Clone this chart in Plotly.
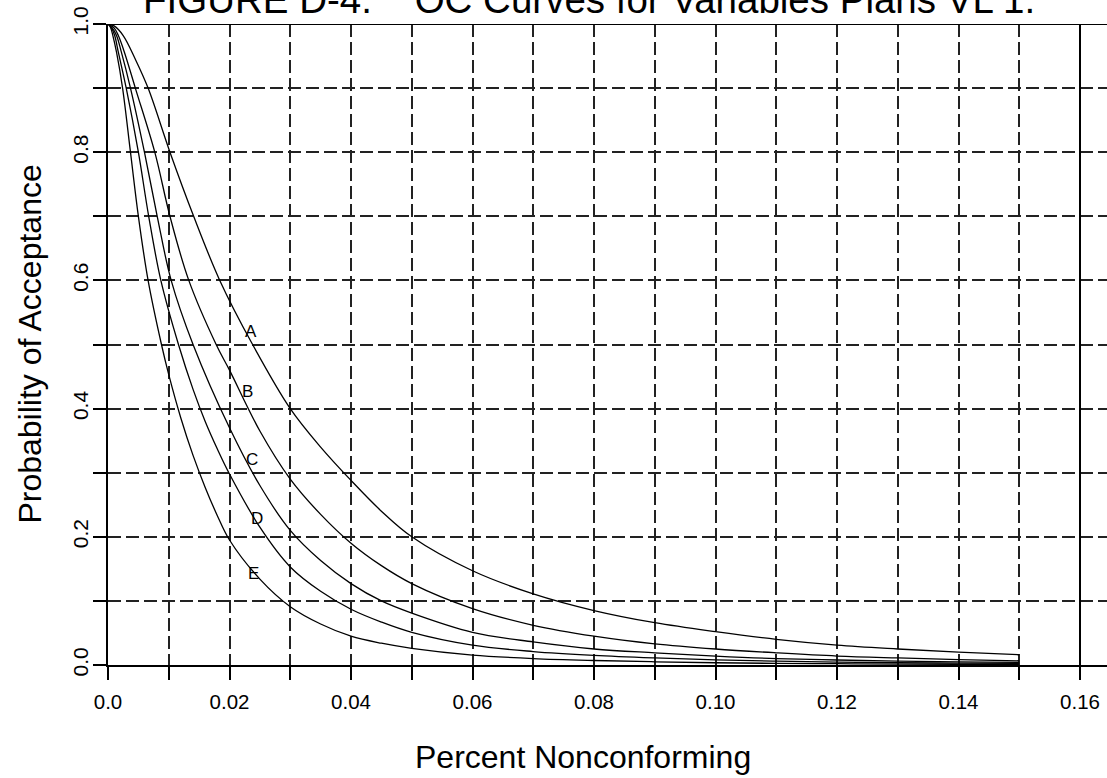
import plotly.graph_objects as go

# ---- data ----
tail_x = [0.06, 0.07, 0.08, 0.09, 0.10, 0.11, 0.12, 0.13, 0.14, 0.15]

A_x = [0, 0.001, 0.0025, 0.0045, 0.0066, 0.0102, 0.0141, 0.0184, 0.0238, 0.030, 0.035, 0.040, 0.045, 0.050] + tail_x
A_y = [1.0, 0.997, 0.982, 0.945, 0.90, 0.80, 0.70, 0.60, 0.50, 0.40, 0.34, 0.288, 0.24, 0.20,
       0.147, 0.111, 0.085, 0.066, 0.052, 0.040, 0.031, 0.025, 0.020, 0.016]

B_x = [0, 0.001, 0.0017, 0.0027, 0.0045, 0.0077, 0.0102, 0.0133, 0.0178, 0.020, 0.025, 0.030, 0.035, 0.040, 0.045, 0.050] + tail_x
B_y = [1.0, 0.994, 0.982, 0.956, 0.90, 0.80, 0.70, 0.60, 0.50, 0.46, 0.365, 0.29, 0.235, 0.19, 0.155, 0.127,
       0.088, 0.062, 0.045, 0.033, 0.025, 0.019, 0.014, 0.011, 0.0085, 0.0065]

C_x = [0, 0.0006, 0.0014, 0.0022, 0.0037, 0.0060, 0.0081, 0.0104, 0.0140, 0.020, 0.025, 0.030, 0.035, 0.040, 0.045, 0.050] + tail_x
C_y = [1.0, 0.995, 0.982, 0.956, 0.90, 0.80, 0.70, 0.60, 0.50, 0.37, 0.28, 0.21, 0.163, 0.127, 0.100, 0.081,
       0.051, 0.036, 0.025, 0.019, 0.014, 0.010, 0.0078, 0.006, 0.0048, 0.004]

D_x = [0, 0.0005, 0.0011, 0.0017, 0.0030, 0.0050, 0.0067, 0.0087, 0.0116, 0.014, 0.016, 0.018, 0.020, 0.025, 0.030, 0.035, 0.040, 0.045, 0.050] + tail_x
D_y = [1.0, 0.995, 0.982, 0.956, 0.90, 0.80, 0.70, 0.60, 0.50, 0.43, 0.38, 0.337, 0.298, 0.215, 0.153, 0.115, 0.087, 0.067, 0.051,
       0.031, 0.021, 0.015, 0.011, 0.008, 0.006, 0.0045, 0.0035, 0.003, 0.0025]

E_x = [0, 0.0004, 0.0008, 0.0014, 0.0024, 0.0037, 0.0050, 0.0066, 0.0088, 0.010, 0.012, 0.014, 0.016, 0.018, 0.020, 0.025, 0.030, 0.035, 0.040, 0.045, 0.050] + tail_x
E_y = [1.0, 0.995, 0.982, 0.956, 0.90, 0.80, 0.70, 0.60, 0.50, 0.453, 0.385, 0.327, 0.277, 0.233, 0.195, 0.134, 0.091, 0.064, 0.045, 0.034, 0.026,
       0.0155, 0.010, 0.007, 0.005, 0.0035, 0.0025, 0.002, 0.0015, 0.0012, 0.001]

curve_names = ["A", "B", "C", "D", "E"]
label_x = [0.0235, 0.0229, 0.0237, 0.0245, 0.0240]
label_y = [0.521, 0.426, 0.320, 0.229, 0.1435]

x_tickvals = [0.0, 0.02, 0.04, 0.06, 0.08, 0.10, 0.12, 0.14, 0.16]
x_ticktext = ["0.0", "0.02", "0.04", "0.06", "0.08", "0.10", "0.12", "0.14", "0.16"]
y_tickvals = [0.0, 0.2, 0.4, 0.6, 0.8, 1.0]
y_ticktext = ["0.0", "0.2", "0.4", "0.6", "0.8", "1.0"]

title_text = "FIGURE D-4.    OC Curves for Variables Plans VL 1."
x_title = "Percent Nonconforming"
y_title = "Probability of Acceptance"

FONT = "Liberation Sans, Arial, Helvetica, sans-serif"
GRID_DASH = "13px,5px"

fig = go.Figure()
series = [(A_x, A_y), (B_x, B_y), (C_x, C_y), (D_x, D_y), (E_x, E_y)]
for name, (xs, ys) in zip(curve_names, series):
    fig.add_trace(go.Scatter(x=xs, y=ys, mode="lines", name=name,
                             line=dict(color="black", width=1.3, shape="spline", smoothing=1.0),
                             showlegend=False, hoverinfo="skip"))

for name, lx, ly in zip(curve_names, label_x, label_y):
    fig.add_annotation(x=lx, y=ly, xref="x", yref="y", text=name, showarrow=False,
                       font=dict(family=FONT, size=17, color="black"))

# solid frame pieces: top line at 1.0 and right line at 0.16
fig.add_shape(type="line", xref="paper", yref="y", x0=0, x1=1, y0=1.0, y1=1.0,
              line=dict(color="black", width=2))
fig.add_shape(type="line", xref="x", yref="y", x0=0.16, x1=0.16, y0=0, y1=1.0,
              line=dict(color="black", width=2))

fig.add_annotation(x=0.4815, y=1, xref="paper", yref="paper", yanchor="bottom", yshift=1,
                   text=title_text, showarrow=False,
                   font=dict(family=FONT, size=38.5, color="black"))
fig.add_annotation(x=0.475, y=-0.143, xref="paper", yref="paper", yanchor="middle",
                   text=x_title, showarrow=False,
                   font=dict(family=FONT, size=32, color="black"))
fig.add_annotation(x=-0.079, y=0.5, xref="paper", yref="paper", xanchor="center", yanchor="middle",
                   text=y_title, showarrow=False, textangle=-90,
                   font=dict(family=FONT, size=32, color="black"))

fig.update_layout(
    width=1107, height=778,
    margin=dict(l=108, r=0, t=24, b=113),
    paper_bgcolor="white", plot_bgcolor="white",
    font=dict(family=FONT, color="black"),
    xaxis=dict(range=[0, 0.164444], tickvals=x_tickvals, ticktext=x_ticktext,
               ticks="outside", ticklen=13, tickwidth=1.5, tickcolor="black",
               showline=True, linecolor="black", linewidth=2,
               showgrid=True, gridcolor="#222", gridwidth=1.6, griddash=GRID_DASH,
               zeroline=False, tickfont=dict(size=20.5), ticklabelstandoff=4,
               minor=dict(dtick=0.01, tick0=0, ticks="outside", ticklen=13, tickwidth=1.5,
                          tickcolor="black", showgrid=True, gridcolor="#222", gridwidth=1.6,
                          griddash=GRID_DASH)),
    yaxis=dict(range=[0, 1.0], tickvals=y_tickvals, ticktext=y_ticktext, tickangle=-90,
               ticks="outside", ticklen=13, tickwidth=1.5, tickcolor="black",
               showline=True, linecolor="black", linewidth=2,
               showgrid=True, gridcolor="#222", gridwidth=1.6, griddash=GRID_DASH,
               zeroline=False, tickfont=dict(size=21), ticklabelstandoff=-3,
               minor=dict(dtick=0.1, tick0=0, ticks="outside", ticklen=13, tickwidth=1.5,
                          tickcolor="black", showgrid=True, gridcolor="#222", gridwidth=1.6,
                          griddash=GRID_DASH)),
)

fig.write_html("out.html")
